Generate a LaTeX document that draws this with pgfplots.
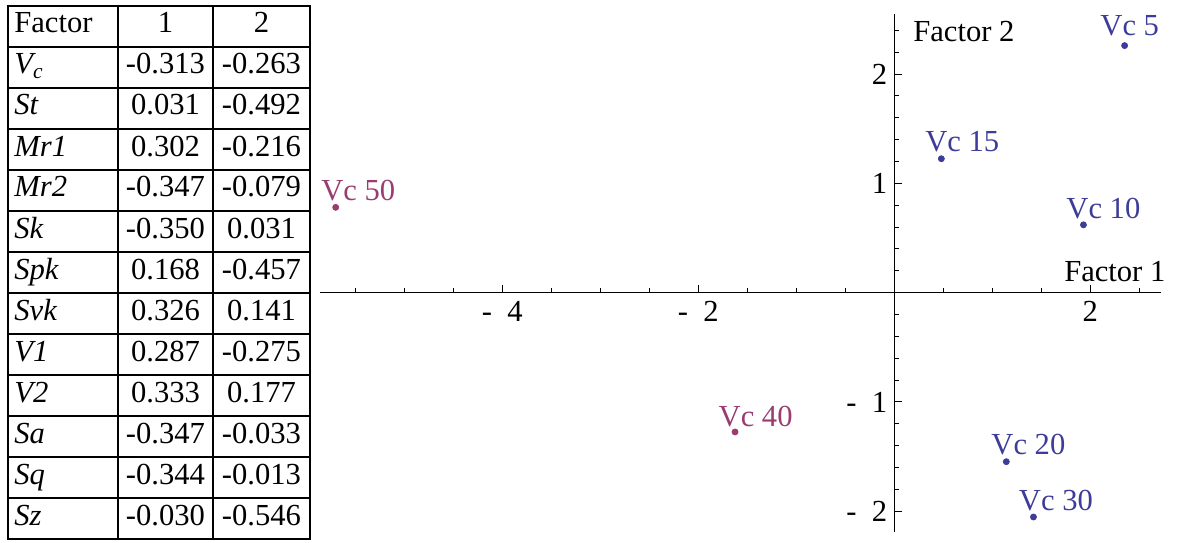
\documentclass[border=0pt]{standalone}
\usepackage{pgfplots}
\pgfplotsset{compat=1.18}
\usepackage{fontspec}
\setmainfont{Liberation Serif}

\definecolor{mblue}{rgb}{0.24,0.24,0.6}
\definecolor{mpurple}{rgb}{0.6,0.24,0.442}
\newcommand{\lblfont}{\fontsize{15.3pt}{17pt}\selectfont}
\newcommand{\mn}{-\hspace{0.5em}}

\begin{document}
\begin{tikzpicture}[font=\lblfont]
\useasboundingbox (0,0) rectangle (589pt,271pt);

% loadings table
\draw[line width=1pt] (4pt,1.5pt) rectangle (155pt,268pt);
\foreach \x in {59,106.5}
  \draw[line width=1pt] (\x pt,1.5pt) -- (\x pt,268pt);
\foreach \k in {1,...,12}
  \draw[line width=1pt] (4pt,{268pt-\k*20.5pt}) -- (155pt,{268pt-\k*20.5pt});
\node[anchor=base west, inner sep=0pt] at (7pt,254.5pt) {Factor};
\node[anchor=base, inner sep=0pt] at (82.75pt,254.5pt) {1};
\node[anchor=base, inner sep=0pt] at (130.75pt,254.5pt) {2};
\foreach \n/\a/\b [count=\i] in {
    {V\textsubscript{c}}/-0.313/-0.263,
    St/0.031/-0.492,
    Mr1/0.302/-0.216,
    Mr2/-0.347/-0.079,
    Sk/-0.350/0.031,
    Spk/0.168/-0.457,
    Svk/0.326/0.141,
    V1/0.287/-0.275,
    V2/0.333/0.177,
    Sa/-0.347/-0.033,
    Sq/-0.344/-0.013,
    Sz/-0.030/-0.546} {
  \node[anchor=base west, inner sep=0pt, font=\lblfont\itshape] at (7pt,{254.5pt-\i*20.5pt}) {\n};
  \node[anchor=base, inner sep=0pt] at (82.75pt,{254.5pt-\i*20.5pt}) {\a};
  \node[anchor=base, inner sep=0pt] at (130.75pt,{254.5pt-\i*20.5pt}) {\b};
}

% factor scores
\begin{axis}[
    at={(447.15pt,124.7pt)}, anchor=origin,
    x=49pt, y=54.65pt,
    xmin=-5.86, xmax=2.72,
    ymin=-2.19, ymax=2.55,
    axis lines=middle,
    axis line style={-, line width=0.6pt},
    tick align=inside,
    xtick={-4,-2,2},
    xticklabels={{\mn 4},{\mn 2},2},
    minor xtick={-5.5,-5,-4.5,-3.5,-3,-2.5,-1.5,-1,-0.5,0.5,1,1.5,2.5},
    ytick={-2,-1,1,2},
    yticklabels={{\mn 2},{\mn 1},1,2},
    minor ytick={-2.2,-1.8,-1.6,-1.4,-1.2,-0.8,-0.6,-0.4,-0.2,0.2,0.4,0.6,0.8,1.2,1.4,1.6,1.8,2.2,2.4},
    major tick length=4pt,
    minor tick length=2.5pt,
    tick style={black, line width=0.5pt},
    ticklabel style={font=\lblfont},
    xticklabel style={yshift=-1pt},
    clip=false,
]
\addplot[only marks, mark=*, mark size=1.5pt, color=mblue] coordinates {
    (2.35,2.26) (0.48,1.225) (1.93,0.62) (1.143,-1.547) (1.42,-2.053)
};
\addplot[only marks, mark=*, mark size=1.5pt, color=mpurple] coordinates {
    (-5.70,0.78) (-1.625,-1.275)
};
\node[anchor=base west, inner sep=0pt, text=mblue] at (axis cs:2.099,2.348) {Vc 5};
\node[anchor=base west, inner sep=0pt, text=mblue] at (axis cs:0.313,1.289) {Vc 15};
\node[anchor=base west, inner sep=0pt, text=mblue] at (axis cs:1.752,0.680) {Vc 10};
\node[anchor=base west, inner sep=0pt, text=mblue] at (axis cs:0.987,-1.479) {Vc 20};
\node[anchor=base west, inner sep=0pt, text=mblue] at (axis cs:1.268,-1.998) {Vc 30};
\node[anchor=base west, inner sep=0pt, text=mpurple] at (axis cs:-5.85,0.847) {Vc 50};
\node[anchor=base west, inner sep=0pt, text=mpurple] at (axis cs:-1.796,-1.221) {Vc 40};
\node[anchor=base east, inner sep=0pt] at (axis cs:2.77,0.097) {Factor 1};
\node[anchor=base west, inner sep=0pt] at (axis cs:0.19,2.295) {Factor 2};
\end{axis}
\end{tikzpicture}
\end{document}
